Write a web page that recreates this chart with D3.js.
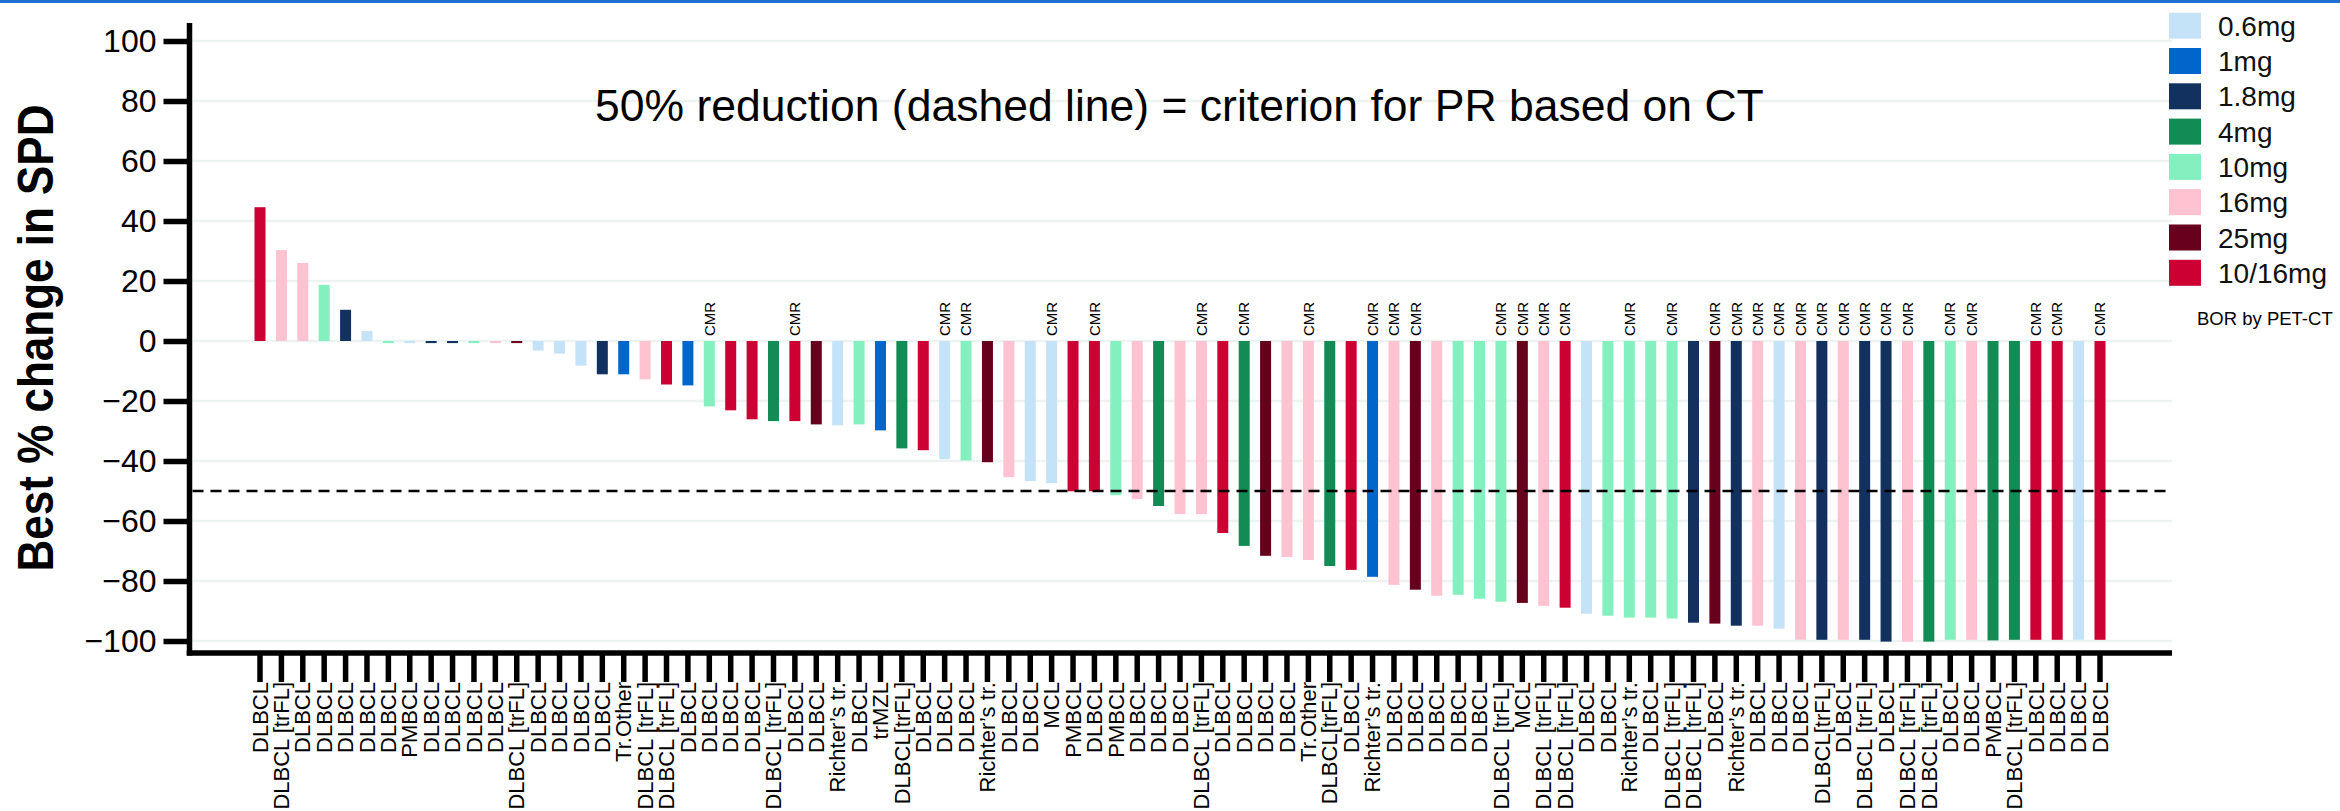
<!DOCTYPE html>
<html>
<head>
<meta charset="utf-8">
<script src="https://cdn.jsdelivr.net/npm/d3@7"></script>
<style>
  body { margin: 0; background: #fff; }
  text { font-family: Arial, "Liberation Sans", sans-serif; fill: #000; }
</style>
</head>
<body>
<svg id="chart"></svg>
<script>
// ---- data (one entry per patient, sorted) ----
const subtypes = [
  'DLBCL', 'DLBCL [trFL]', 'DLBCL', 'DLBCL', 'DLBCL', 'DLBCL', 'DLBCL', 'PMBCL', 'DLBCL', 'DLBCL',
  'DLBCL', 'DLBCL', 'DLBCL [trFL]', 'DLBCL', 'DLBCL', 'DLBCL', 'DLBCL', 'Tr.Other', 'DLBCL [trFL]', 'DLBCL [trFL]',
  'DLBCL', 'DLBCL', 'DLBCL', 'DLBCL', 'DLBCL [trFL]', 'DLBCL', 'DLBCL', 'Richter\u2019s tr.', 'DLBCL', 'trMZL',
  'DLBCL[trFL]', 'DLBCL', 'DLBCL', 'DLBCL', 'Richter\u2019s tr.', 'DLBCL', 'DLBCL', 'MCL', 'PMBCL', 'DLBCL',
  'PMBCL', 'DLBCL', 'DLBCL', 'DLBCL', 'DLBCL [trFL]', 'DLBCL', 'DLBCL', 'DLBCL', 'DLBCL', 'Tr.Other',
  'DLBCL[trFL]', 'DLBCL', 'Richter\u2019s tr.', 'DLBCL', 'DLBCL', 'DLBCL', 'DLBCL', 'DLBCL', 'DLBCL [trFL]', 'MCL',
  'DLBCL [trFL]', 'DLBCL [trFL]', 'DLBCL', 'DLBCL', 'Richter\u2019s tr.', 'DLBCL', 'DLBCL [trFL]', 'DLBCL [trFL]', 'DLBCL', 'Richter\u2019s tr.',
  'DLBCL', 'DLBCL', 'DLBCL', 'DLBCL[trFL]', 'DLBCL', 'DLBCL [trFL]', 'DLBCL', 'DLBCL [trFL]', 'DLBCL [trFL]', 'DLBCL',
  'DLBCL', 'PMBCL', 'DLBCL [trFL]', 'DLBCL', 'DLBCL', 'DLBCL', 'DLBCL'
];

const doses = [
  '10/16mg', '16mg', '16mg', '10mg', '1.8mg', '0.6mg', '10mg', '0.6mg', '1.8mg', '1.8mg',
  '10mg', '16mg', '25mg', '0.6mg', '0.6mg', '0.6mg', '1.8mg', '1mg', '16mg', '10/16mg',
  '1mg', '10mg', '10/16mg', '10/16mg', '4mg', '10/16mg', '25mg', '0.6mg', '10mg', '1mg',
  '4mg', '10/16mg', '0.6mg', '10mg', '25mg', '16mg', '0.6mg', '0.6mg', '10/16mg', '10/16mg',
  '10mg', '16mg', '4mg', '16mg', '16mg', '10/16mg', '4mg', '25mg', '16mg', '16mg',
  '4mg', '10/16mg', '1mg', '16mg', '25mg', '16mg', '10mg', '10mg', '10mg', '25mg',
  '16mg', '10/16mg', '0.6mg', '10mg', '10mg', '10mg', '10mg', '1.8mg', '25mg', '1.8mg',
  '16mg', '0.6mg', '16mg', '1.8mg', '16mg', '1.8mg', '1.8mg', '16mg', '4mg', '10mg',
  '16mg', '4mg', '4mg', '10/16mg', '10/16mg', '0.6mg', '10/16mg'
];

const bestChange = [
  44.6, 30.3, 26.0, 18.7, 10.4, 3.4, -0.7, -0.7, -0.7, -0.7,
  -0.7, -0.7, -0.7, -3.2, -4.2, -8.2, -11.1, -11.1, -12.8, -14.5,
  -14.8, -21.8, -23.1, -26.1, -26.7, -26.7, -27.8, -28.1, -27.8, -29.8,
  -35.8, -36.4, -39.4, -39.8, -40.4, -45.4, -46.7, -47.4, -50.1, -50.1,
  -51.4, -52.7, -55.0, -57.7, -57.7, -64.0, -68.3, -71.6, -72.0, -73.0,
  -75.0, -76.3, -78.6, -81.3, -82.9, -84.9, -84.6, -85.9, -86.9, -87.3,
  -88.3, -88.9, -90.9, -91.6, -92.2, -92.2, -92.5, -93.9, -94.2, -94.9,
  -94.9, -95.9, -99.6, -99.6, -99.6, -99.6, -100.2, -100.2, -100.2, -99.6,
  -99.6, -99.8, -99.6, -99.6, -99.6, -99.6, -99.6
];

// 1 = complete metabolic response (BOR by PET-CT)
const cmr = [
  0, 0, 0, 0, 0, 0, 0, 0, 0, 0,
  0, 0, 0, 0, 0, 0, 0, 0, 0, 0,
  0, 1, 0, 0, 0, 1, 0, 0, 0, 0,
  0, 0, 1, 1, 0, 0, 0, 1, 0, 1,
  0, 0, 0, 0, 1, 0, 1, 0, 0, 1,
  0, 0, 1, 1, 1, 0, 0, 0, 1, 1,
  1, 1, 0, 0, 1, 0, 1, 0, 1, 1,
  1, 1, 1, 1, 1, 1, 1, 1, 0, 1,
  1, 0, 0, 1, 1, 0, 1
];

const doseLevels = ['0.6mg', '1mg', '1.8mg', '4mg', '10mg', '16mg', '25mg', '10/16mg'];
const doseColors = ['#c5e3f8', '#0066cc', '#12315f', '#138b55', '#84f0bf', '#ffc2d1', '#67001c', '#cc0033'];
const yTicks = [100, 80, 60, 40, 20, 0, -20, -40, -60, -80, -100];
const prThreshold = -50;

// ---- layout ----
const W = 2340, H = 811;
const plotLeft = 189.5, plotRight = 2172, plotTop = 23, plotBottom = 653;

const svg = d3.select('#chart').attr('width', W).attr('height', H);

const data = bestChange.map((v, i) => ({
  i: i, value: v, subtype: subtypes[i], dose: doses[i], cmr: cmr[i] === 1
}));

const x = d3.scaleBand()
    .domain(d3.range(data.length))
    .range([249.3, 2110.7])
    .paddingInner(0.486)
    .paddingOuter(0.243);

const y = d3.scaleLinear()
    .domain([-104, 106])
    .range([plotBottom, plotTop]);

const color = d3.scaleOrdinal().domain(doseLevels).range(doseColors);

// thin blue rule at the very top of the figure
svg.append('rect')
    .attr('x', 0).attr('y', 0)
    .attr('width', W).attr('height', 3)
    .attr('fill', '#1f6fd0');

// gridlines
svg.append('g').selectAll('line')
    .data(yTicks)
  .join('line')
    .attr('x1', plotLeft + 3).attr('x2', plotRight)
    .attr('y1', d => y(d)).attr('y2', d => y(d))
    .attr('stroke', '#edf3f1')
    .attr('stroke-width', 2.5);

// bars
svg.append('g').selectAll('rect')
    .data(data)
  .join('rect')
    .attr('x', d => x(d.i))
    .attr('width', x.bandwidth())
    .attr('y', d => Math.min(y(d.value), y(0)))
    .attr('height', d => Math.abs(y(d.value) - y(0)))
    .attr('fill', d => color(d.dose));

// 50% reduction reference
svg.append('line')
    .attr('x1', plotLeft + 3).attr('x2', plotRight)
    .attr('y1', y(prThreshold)).attr('y2', y(prThreshold))
    .attr('stroke', '#000')
    .attr('stroke-width', 2.5)
    .attr('stroke-dasharray', '11,7');

// CMR annotations
svg.append('g').selectAll('text')
    .data(data.filter(d => d.cmr))
  .join('text')
    .attr('transform', d => `translate(${x(d.i) + x.bandwidth() / 2},${y(0) - 5}) rotate(-90)`)
    .attr('dy', '0.35em')
    .style('font-size', '15px')
    .text('CMR');

// y axis
const yAxis = d3.axisLeft(y)
    .tickValues(yTicks)
    .tickSize(26)
    .tickSizeOuter(0)
    .tickPadding(7);

const yAxisG = svg.append('g')
    .attr('transform', `translate(${plotLeft},0)`)
    .call(yAxis);
yAxisG.select('.domain')
    .attr('d', `M0,${plotTop}V${plotBottom + 2.5}`)
    .attr('stroke-width', 5.5);
yAxisG.selectAll('.tick line').attr('stroke-width', 5.5);
yAxisG.selectAll('.tick text')
    .style('font-size', '32px')
    .style('font-family', 'Arial, "Liberation Sans", sans-serif');

// x axis
const xAxis = d3.axisBottom(x)
    .tickSize(29)
    .tickSizeOuter(0)
    .tickFormat(i => subtypes[i]);

const xAxisG = svg.append('g')
    .attr('transform', `translate(0,${plotBottom})`)
    .call(xAxis);
xAxisG.select('.domain').remove();
xAxisG.selectAll('.tick line').attr('stroke-width', 5.5);
xAxisG.selectAll('.tick text')
    .attr('transform', 'rotate(-90)')
    .attr('x', -29)
    .attr('y', 0)
    .attr('dy', '0.35em')
    .attr('text-anchor', 'end')
    .style('font-size', '22px')
    .style('font-family', 'Arial, "Liberation Sans", sans-serif');

svg.append('line')
    .attr('x1', plotLeft - 2.75).attr('x2', plotRight)
    .attr('y1', plotBottom).attr('y2', plotBottom)
    .attr('stroke', '#000')
    .attr('stroke-width', 5.5);

// axis title (glyphs are a little wider in the source figure)
svg.append('text')
    .attr('transform', `translate(53,338) scale(1.12,1) rotate(-90)`)
    .attr('text-anchor', 'middle')
    .style('font-size', '44px')
    .style('font-weight', 'bold')
    .text('Best % change in SPD');

// annotation
svg.append('text')
    .attr('x', 595).attr('y', 121)
    .style('font-size', '44.5px')
    .text('50% reduction (dashed line) = criterion for PR based on CT');

// legend
const legend = svg.append('g').attr('transform', 'translate(2169,12.7)');
const items = legend.selectAll('g')
    .data(doseLevels)
  .join('g')
    .attr('transform', (d, i) => `translate(0,${i * 35.3})`);
items.append('rect')
    .attr('width', 32).attr('height', 26)
    .attr('fill', d => color(d));
items.append('text')
    .attr('x', 49).attr('y', 23)
    .style('font-size', '28px')
    .style('fill', '#111')
    .text(d => d);

svg.append('text')
    .attr('x', 2197).attr('y', 325)
    .style('font-size', '18.5px')
    .text('BOR by PET-CT');
</script>
</body>
</html>
